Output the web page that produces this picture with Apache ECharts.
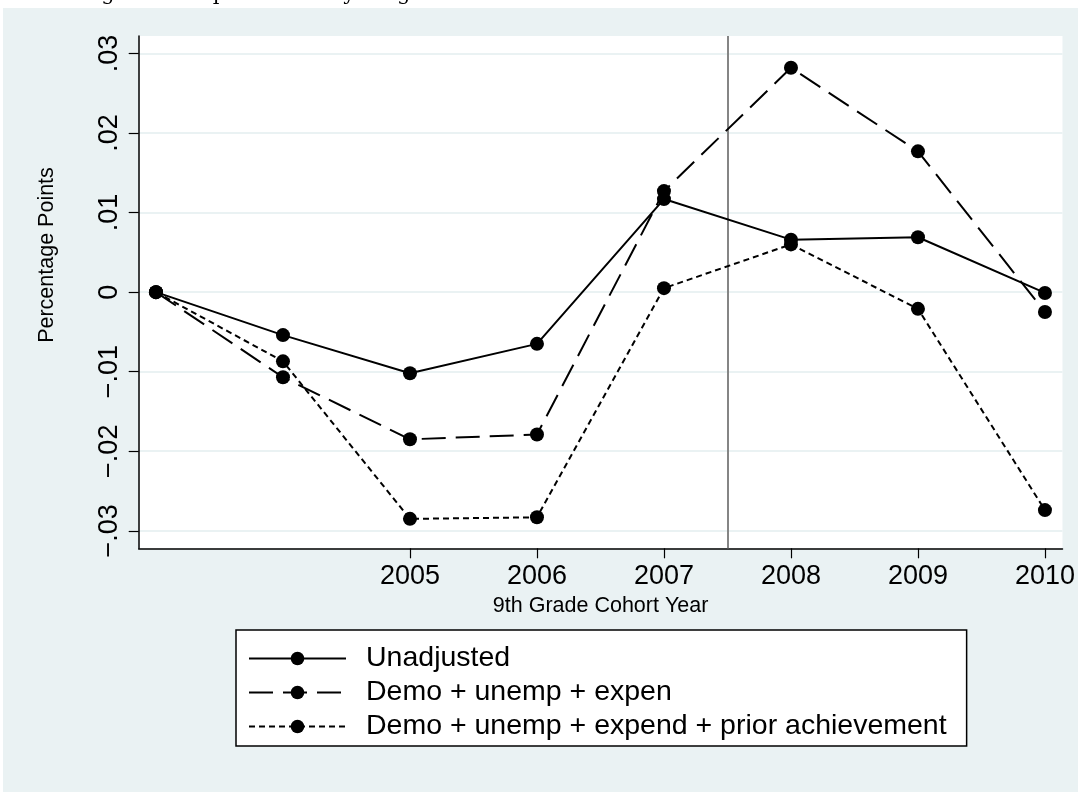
<!DOCTYPE html>
<html>
<head>
<meta charset="utf-8">
<script src="https://cdn.jsdelivr.net/npm/echarts@6/dist/echarts.min.js"></script>
<style>
html,body{margin:0;padding:0;background:#fff;}
#chart{width:1078px;height:792px;}
</style>
</head>
<body>
<div id="chart"></div>
<script>
// ---- data ----
const years = [2003, 2004, 2005, 2006, 2007, 2008, 2009, 2010];
const xTickYears = [2005, 2006, 2007, 2008, 2009, 2010];
const yTicks = [-0.03, -0.02, -0.01, 0, 0.01, 0.02, 0.03];
const unadjusted = [0, -0.0054, -0.0102, -0.0065, 0.0117, 0.0066, 0.0069, -0.0001];
const demoUnempExpen = [0, -0.0107, -0.0185, -0.0179, 0.0127, 0.0282, 0.0177, -0.0025];
const priorAchievement = [0, -0.0087, -0.0285, -0.0283, 0.0005, 0.0060, -0.0021, -0.0274];
const policyYear = 2007.5;
const seriesNames = ['Unadjusted', 'Demo + unemp + expen', 'Demo + unemp + expend + prior achievement'];
const titleText = 'Figure 3: Impact on five year graduation rates';
const xTitle = '9th Grade Cohort Year';
const yTitle = 'Percentage Points';

const FONT = 'Liberation Sans';
const pairs = arr => years.map((y, i) => [y, arr[i]]);
const fmtY = v => {
  const n = Math.round(Math.abs(v) * 100);
  if (n === 0) return '0';
  return (v < 0 ? '\u2212' : '') + '.0' + n;
};

const chart = echarts.init(document.getElementById('chart'), null, {renderer: 'canvas'});
const baseSeries = (name, data, type) => ({
  name: name,
  type: 'line',
  data: pairs(data),
  symbol: 'circle',
  symbolSize: 14,
  itemStyle: {color: '#000'},
  lineStyle: {color: '#000', width: 2, type: type},
  emphasis: {disabled: true},
  animation: false,
  z: 3
});
const s1 = baseSeries(seriesNames[0], unadjusted, 'solid');
s1.markLine = {
  silent: true,
  symbol: 'none',
  label: {show: false},
  lineStyle: {color: '#858585', width: 2, type: 'solid'},
  data: [{xAxis: policyYear}],
  animation: false,
  z: 1
};
const option = {
  backgroundColor: '#EAF2F3',
  animation: false,
  textStyle: {fontFamily: FONT},
  graphic: [
    {type: 'rect', left: 0, top: 0, z: 100, shape: {width: 1078, height: 8}, style: {fill: '#fff'}},
    {type: 'rect', left: 0, top: 0, z: 100, shape: {width: 3, height: 792}, style: {fill: '#fff'}},
    {type: 'text', x: 80, y: 5, z: 101, style: {text: titleText, fill: '#000', font: '21px "DejaVu Serif"', verticalAlign: 'bottom', align: 'left'}},
    {type: 'text', x: 47, y: 255, rotation: Math.PI / 2, z: 10,
     style: {text: yTitle, fill: '#000', font: '21.5px "Liberation Sans"', align: 'center', verticalAlign: 'middle'}}
  ],
  grid: {
    left: 138.7, right: 15, top: 36, bottom: 243.7,
    show: true, backgroundColor: '#fff', borderWidth: 0
  },
  legend: {
    data: seriesNames,
    orient: 'vertical',
    left: 236, top: 630,
    backgroundColor: '#fff',
    borderColor: '#000', borderWidth: 1.5, borderRadius: 0,
    padding: [14, 20, 5, 12],
    itemWidth: 97, itemHeight: 17, itemGap: 5,
    textStyle: {fontFamily: FONT, fontSize: 28.5, color: '#000', padding: [0, 0, 0, 15]},
    selectedMode: false
  },
  xAxis: {
    type: 'value',
    min: 2002.864, max: 2010.138,
    name: xTitle, nameLocation: 'middle', nameGap: 47,
    nameTextStyle: {fontFamily: FONT, fontSize: 21.5, color: '#000'},
    axisLine: {show: true, onZero: false, lineStyle: {color: '#000', width: 1.5}},
    axisTick: {show: true, length: 10, lineStyle: {color: '#000', width: 1.2}, customValues: xTickYears},
    axisLabel: {customValues: xTickYears, fontFamily: FONT, fontSize: 27, color: '#000', margin: 15, formatter: v => String(v)},
    splitLine: {show: false}
  },
  yAxis: {
    type: 'value',
    min: -0.0322, max: 0.0322,
    axisLine: {show: true, onZero: false, lineStyle: {color: '#000', width: 1.5}},
    axisTick: {show: true, length: 10, lineStyle: {color: '#000', width: 1.2}, customValues: yTicks},
    axisLabel: {customValues: yTicks, rotate: 90, fontFamily: FONT, fontSize: 27, color: '#000', margin: 16, formatter: fmtY},
    splitLine: {show: true, lineStyle: {color: '#EAF2F3', width: 2}}
  },
  series: [
    s1,
    baseSeries(seriesNames[1], demoUnempExpen, [24, 10]),
    baseSeries(seriesNames[2], priorAchievement, [6, 4])
  ]
};
chart.setOption(option);
</script>
</body>
</html>
